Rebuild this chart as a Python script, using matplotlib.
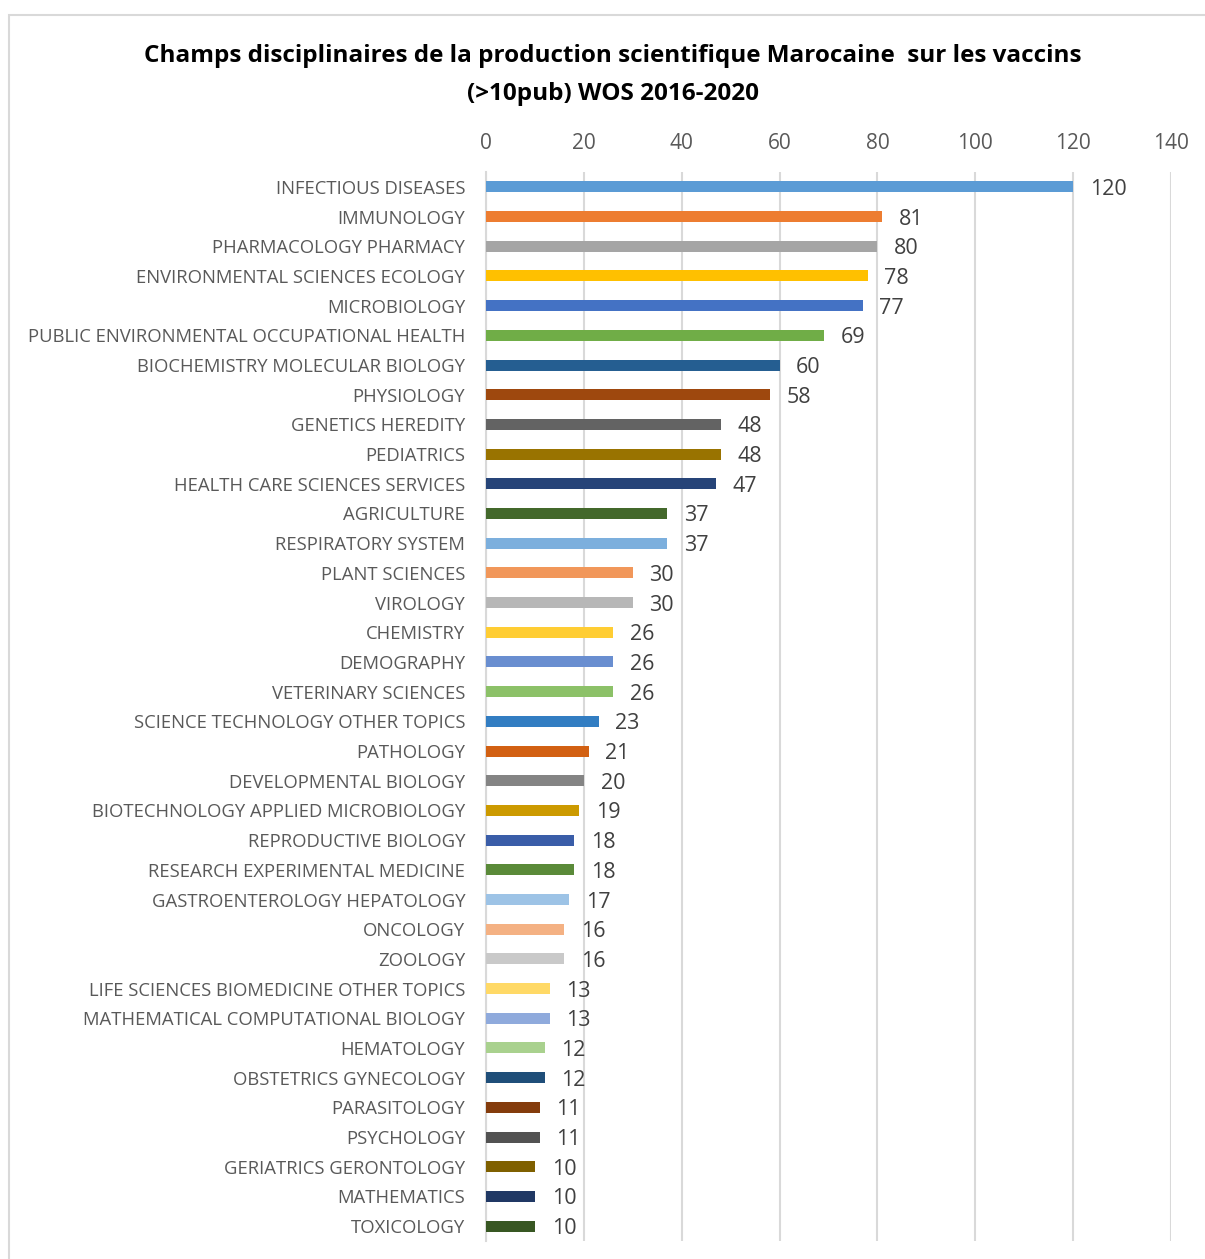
import matplotlib.pyplot as plt
from matplotlib.patches import Rectangle

categories = [
    "INFECTIOUS DISEASES", "IMMUNOLOGY", "PHARMACOLOGY PHARMACY",
    "ENVIRONMENTAL SCIENCES ECOLOGY", "MICROBIOLOGY",
    "PUBLIC ENVIRONMENTAL OCCUPATIONAL HEALTH", "BIOCHEMISTRY MOLECULAR BIOLOGY",
    "PHYSIOLOGY", "GENETICS HEREDITY", "PEDIATRICS", "HEALTH CARE SCIENCES SERVICES",
    "AGRICULTURE", "RESPIRATORY SYSTEM", "PLANT SCIENCES", "VIROLOGY", "CHEMISTRY",
    "DEMOGRAPHY", "VETERINARY SCIENCES", "SCIENCE TECHNOLOGY OTHER TOPICS",
    "PATHOLOGY", "DEVELOPMENTAL BIOLOGY", "BIOTECHNOLOGY APPLIED MICROBIOLOGY",
    "REPRODUCTIVE BIOLOGY", "RESEARCH EXPERIMENTAL MEDICINE",
    "GASTROENTEROLOGY HEPATOLOGY", "ONCOLOGY", "ZOOLOGY",
    "LIFE SCIENCES BIOMEDICINE OTHER TOPICS", "MATHEMATICAL COMPUTATIONAL BIOLOGY",
    "HEMATOLOGY", "OBSTETRICS GYNECOLOGY", "PARASITOLOGY", "PSYCHOLOGY",
    "GERIATRICS GERONTOLOGY", "MATHEMATICS", "TOXICOLOGY",
]
values = [120, 81, 80, 78, 77, 69, 60, 58, 48, 48, 47, 37, 37, 30, 30, 26, 26, 26,
          23, 21, 20, 19, 18, 18, 17, 16, 16, 13, 13, 12, 12, 11, 11, 10, 10, 10]
colors = [
    "#5B9BD5", "#ED7D31", "#A5A5A5", "#FFC000", "#4472C4", "#70AD47",
    "#255E91", "#9E480E", "#636363", "#997300", "#264478", "#43682B",
    "#7CAFDD", "#F1975A", "#B7B7B7", "#FFCD33", "#698ED0", "#8CC168",
    "#327DC2", "#D26012", "#848484", "#CC9A00", "#3A5DA8", "#5A8A39",
    "#9DC3E6", "#F4B183", "#C9C9C9", "#FFD966", "#8FAADC", "#A9D18E",
    "#1F4E79", "#843C0C", "#525252", "#7F6000", "#203864", "#385723",
]
xticks = [0, 20, 40, 60, 80, 100, 120, 140]
title = "Champs disciplinaires de la production scientifique Marocaine  sur les vaccins\n(>10pub) WOS 2016-2020"

plt.rcParams['font.family'] = ['Open Sans', 'DejaVu Sans']

W, H = 1205, 1259
fig = plt.figure(figsize=(W / 100, H / 100), dpi=100)

# chart area border
fig.patches.append(Rectangle((9 / W, -0.01), 1.2, 1 - 15 / H + 0.01, transform=fig.transFigure,
                             fill=False, edgecolor="#D9D9D9", linewidth=1.5))

ax = fig.add_axes([486 / W, 1 - 1241 / H, (1171 - 486) / W, (1241 - 172) / H])
y = list(range(len(categories)))
ax.barh(y, values, height=0.37, color=colors, zorder=3)
ax.set_ylim(len(categories) - 0.5, -0.5)
ax.set_xlim(0, 140)
ax.set_xticks(xticks)
ax.xaxis.tick_top()
ax.tick_params(axis='x', length=0, pad=13, labelsize=15, labelcolor="#595959")
ax.set_yticks(y)
ax.set_yticklabels(categories)
ax.tick_params(axis='y', length=0, pad=15, labelsize=13.3, labelcolor="#595959")
ax.grid(axis='x', color="#D9D9D9", linewidth=1.5, zorder=0)
for s in ["top", "right", "bottom"]:
    ax.spines[s].set_visible(False)
ax.spines["left"].set_color("#D9D9D9")
ax.spines["left"].set_linewidth(1.5)

for yi, v in zip(y, values):
    ax.annotate(str(v), (v, yi), xytext=(12, 0), textcoords="offset points",
                ha="left", va="center_baseline", fontsize=15.5, color="#404040")

fig.text(613 / W, 1 - 75 / H, title, ha="center", va="center", fontsize=17.5,
         fontweight="bold", color="black", linespacing=1.75)

fig.savefig("out.png", dpi=100)
